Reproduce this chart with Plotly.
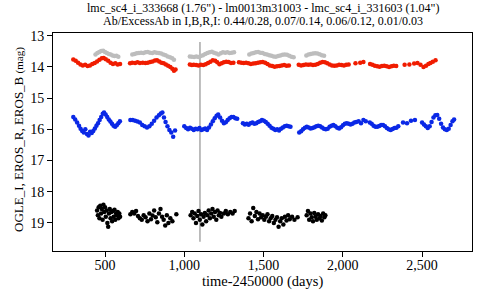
import plotly.graph_objects as go

# ---- data ----
red_t = [300, 315, 330, 345, 360, 375, 390, 405, 420, 435, 450, 465, 480, 492, 505, 520, 535, 550, 565, 580, 595,
         658, 672, 690, 705, 720, 738, 755, 770, 785, 800, 815, 828, 842, 856, 870, 884, 898, 912, 925, 935, 945,
         1035, 1048, 1060, 1075, 1090, 1105, 1120, 1135, 1150, 1165, 1180, 1195, 1208, 1222, 1236, 1250, 1265, 1280, 1295, 1310,
         1345, 1360, 1375, 1390, 1405, 1420, 1435, 1450, 1465, 1480, 1495, 1510, 1525, 1540, 1555, 1570, 1585, 1600, 1615, 1630, 1645, 1660,
         1722, 1737, 1752, 1767, 1782, 1797, 1812, 1827, 1842, 1857, 1872, 1887, 1902, 1917, 1932, 1947, 1962, 1977, 1992, 2007, 2022, 2037, 2080, 2110, 2130,
         2172, 2187, 2202, 2217, 2232, 2247, 2262, 2277, 2292, 2307, 2322, 2337, 2390, 2420, 2450,
         2471, 2490, 2509, 2525, 2540, 2553, 2568, 2585]
red_m = [13.76, 13.8, 13.86, 13.92, 13.95, 13.93, 13.97, 13.95, 13.9, 13.87, 13.82, 13.77, 13.72, 13.71, 13.75, 13.8, 13.86, 13.9, 13.88, 13.92, 13.9,
         13.88, 13.86, 13.87, 13.85, 13.87, 13.86, 13.87, 13.86, 13.84, 13.82, 13.79, 13.78, 13.82, 13.86, 13.88, 13.92, 13.96, 14.0, 14.06, 14.12, 14.08,
         13.92, 13.94, 13.93, 13.94, 13.95, 13.93, 13.94, 13.91, 13.87, 13.83, 13.78, 13.8, 13.85, 13.91, 13.88, 13.85, 13.83, 13.84, 13.87, 13.86,
         13.85, 13.86, 13.87, 13.86, 13.88, 13.9, 13.89, 13.88, 13.86, 13.85, 13.84, 13.86, 13.9, 13.95, 13.97, 13.99, 13.98, 13.97, 13.95, 13.94, 13.96, 13.95,
         13.93, 13.95, 13.94, 13.92, 13.93, 13.92, 13.94, 13.93, 13.9, 13.86, 13.84, 13.85, 13.88, 13.92, 13.95, 13.96, 13.95, 13.93, 13.94, 13.95, 13.93, 13.92, 13.88, 13.86, 13.84,
         13.9, 13.93, 13.96, 13.98, 13.99, 13.97, 13.96, 13.98, 14.0, 13.98, 13.96, 13.97, 13.93, 13.92, 13.89,
         13.87, 13.93, 14.0, 13.96, 13.9, 13.87, 13.83, 13.78]

gray_t = [440, 452, 464, 476, 488, 500, 512, 524, 536, 548, 560, 572, 584,
          672, 686, 700, 714, 728, 742, 756, 770, 784, 798, 812, 826, 840, 854, 868, 882, 896, 910, 924, 935,
          1035, 1048, 1062, 1076, 1090, 1104, 1118, 1132, 1146, 1160, 1174, 1188, 1202, 1216, 1230, 1244, 1258, 1272, 1286, 1300, 1314,
          1410, 1424, 1438, 1452, 1466, 1480, 1494, 1508, 1522, 1536, 1550, 1564, 1578, 1592, 1606, 1620, 1634, 1648, 1662, 1676, 1690,
          1770, 1784, 1798, 1812, 1826, 1840, 1854, 1868, 1882]
gray_m = [13.6, 13.55, 13.52, 13.49, 13.48, 13.52, 13.55, 13.58, 13.6, 13.63, 13.65, 13.64, 13.67,
          13.6, 13.58, 13.56, 13.55, 13.54, 13.55, 13.53, 13.52, 13.54, 13.55, 13.53, 13.54, 13.55, 13.57, 13.6, 13.62, 13.66, 13.69, 13.72, 13.77,
          13.66, 13.67, 13.68, 13.66, 13.68, 13.65, 13.62, 13.58, 13.55, 13.53, 13.51, 13.54, 13.57, 13.6, 13.56, 13.53, 13.54, 13.53, 13.55, 13.54, 13.53,
          13.6, 13.57, 13.55, 13.53, 13.52, 13.54, 13.55, 13.58, 13.6, 13.62, 13.64, 13.66, 13.67, 13.65, 13.63, 13.61, 13.6, 13.61, 13.64, 13.67, 13.69,
          13.63, 13.6, 13.58, 13.57, 13.56, 13.57, 13.59, 13.62, 13.64]

blue_t = [300, 312, 324, 336, 346, 356, 366, 376, 386, 396, 406, 416, 426, 436, 446, 456, 466, 476, 486, 494, 504, 514, 524, 534, 544, 554, 564, 574, 584, 594,
          660, 675, 690, 705, 720, 735, 750, 765, 780, 795, 810, 825, 840, 852, 862, 872, 882, 894, 906, 918, 930, 942,
          1000, 1012, 1024, 1036, 1048, 1060, 1072, 1084, 1096, 1108, 1120, 1132, 1144, 1156, 1168, 1180, 1192, 1204, 1214, 1226, 1238, 1250, 1262, 1274, 1286, 1298, 1310, 1322, 1334,
          1370, 1382, 1394, 1406, 1418, 1430, 1442, 1454, 1466, 1478, 1490, 1502, 1514, 1526, 1538, 1550, 1562, 1574, 1586, 1598, 1610, 1622, 1634, 1646, 1658, 1670,
          1725, 1737, 1749, 1761, 1773, 1785, 1797, 1809, 1821, 1833, 1845, 1857, 1869, 1881, 1893, 1905, 1917, 1929, 1941, 1953, 1965, 1977, 1989, 2001, 2013, 2025, 2037, 2049, 2061, 2073, 2085, 2100, 2115, 2130, 2145,
          2170, 2182, 2194, 2206, 2218, 2230, 2242, 2254, 2266, 2278, 2290, 2302, 2314, 2326, 2338, 2350, 2380, 2405, 2430, 2455,
          2500, 2512, 2524, 2536, 2548, 2560, 2572, 2584, 2596, 2608, 2620, 2632, 2644, 2656, 2668, 2680, 2692, 2702]
blue_m = [15.6, 15.68, 15.78, 15.88, 15.98, 16.05, 16.1, 16.0, 16.15, 16.2, 16.08, 16.12, 16.05, 15.97, 15.88, 15.8, 15.7, 15.6, 15.5, 15.46, 15.52, 15.6, 15.68, 15.75, 15.82, 15.88, 15.92, 15.87, 15.8, 15.74,
          15.7, 15.7, 15.72, 15.75, 15.78, 15.86, 15.9, 15.94, 15.9, 15.82, 15.72, 15.62, 15.55, 15.49, 15.46, 15.62, 15.76, 15.9, 16.02, 16.1, 16.24, 16.04,
          15.9, 15.96, 16.0, 15.95, 15.98, 16.02, 15.98, 16.0, 15.96, 16.02, 16.0, 15.97, 16.02, 15.94, 15.84, 15.74, 15.64, 15.56, 15.52, 15.62, 15.72, 15.8, 15.77, 15.7, 15.64, 15.6, 15.6, 15.64, 15.66,
          15.8, 15.84, 15.82, 15.85, 15.8, 15.78, 15.82, 15.8, 15.76, 15.74, 15.7, 15.72, 15.76, 15.82, 15.88, 15.95, 15.98, 16.02, 16.0, 16.04, 15.98, 15.94, 15.9, 15.88, 15.9, 15.92,
          16.1, 16.06, 16.0, 15.95, 15.92, 15.94, 15.97, 15.96, 15.93, 15.9, 15.88, 15.9, 15.94, 15.98, 16.0, 15.98, 15.92, 15.88, 15.86, 15.9, 15.95, 15.97, 15.93, 15.87, 15.82, 15.8, 15.82, 15.84, 15.82, 15.78, 15.76, 15.74, 15.8, 15.7, 15.74,
          15.78, 15.82, 15.88, 15.92, 15.92, 15.89, 15.86, 15.86, 15.9, 15.96, 16.0, 16.02, 15.99, 15.96, 15.95, 15.9, 15.78, 15.8, 15.72, 15.7,
          15.78, 15.84, 15.9, 15.96, 15.9, 15.76, 15.62, 15.55, 15.54, 15.66, 15.82, 15.94, 16.0, 16.02, 15.98, 15.86, 15.74, 15.68]

black_t = [450, 455, 460, 465, 470, 475, 480, 485, 490, 495, 500, 505, 510, 515, 520, 525, 530, 535, 540, 545, 550, 555, 560, 565, 570, 575, 580, 585, 590, 595,
           660, 672, 684, 696, 708, 720, 732, 744, 756, 768, 780, 790, 800, 810, 820, 830, 840, 850, 860, 870, 880, 890, 900, 912, 925, 950,
           1040, 1050, 1058, 1066, 1074, 1082, 1090, 1098, 1106, 1114, 1122, 1130, 1138, 1146, 1154, 1162, 1170, 1178, 1186, 1194, 1202, 1210, 1218, 1226, 1234, 1250, 1262, 1275, 1290, 1305, 1318,
           1405, 1415, 1425, 1435, 1445, 1455, 1465, 1475, 1485, 1495, 1505, 1515, 1525, 1535, 1545, 1555, 1565, 1575, 1585, 1595, 1605, 1615, 1625, 1635, 1645, 1655, 1665, 1680, 1695, 1715,
           1772, 1780, 1788, 1796, 1804, 1812, 1820, 1828, 1836, 1844, 1852, 1860, 1868, 1876, 1884, 1890]
black_m = [18.6, 18.75, 18.5, 18.85, 18.45, 18.7, 18.55, 18.9, 18.42, 18.65, 18.5, 18.8, 18.6, 19.0, 19.12, 18.7, 18.55, 18.85, 18.65, 18.95, 18.62, 18.8, 18.58, 18.9, 18.7, 18.75, 18.65, 18.85, 18.7, 18.8,
           18.72, 18.65, 18.7, 18.62, 18.78, 18.85, 18.9, 18.75, 18.82, 18.95, 18.7, 18.88, 18.76, 18.6, 18.82, 18.98, 18.7, 18.55, 18.8, 18.9, 19.08, 18.75, 19.0, 18.85, 18.95, 18.72,
           18.75, 18.65, 18.85, 18.7, 19.0, 18.78, 18.62, 18.9, 18.72, 19.05, 18.8, 18.68, 18.95, 18.75, 18.6, 18.85, 18.7, 18.55, 18.8, 18.65, 18.9, 18.6, 18.75, 18.68, 18.8, 18.7, 18.62, 18.72, 18.65, 18.7, 18.62,
           18.85, 18.7, 18.95, 18.52, 18.78, 18.65, 18.88, 18.7, 18.82, 18.75, 18.9, 18.8, 18.72, 18.95, 18.85, 18.78, 19.0, 18.9, 18.82, 19.12, 18.95, 18.85, 19.05, 18.8, 18.92, 18.75, 18.88, 18.8, 18.9, 18.82,
           18.75, 18.62, 18.9, 18.7, 18.82, 18.95, 18.68, 18.8, 18.9, 18.72, 18.85, 18.78, 18.92, 18.7, 18.82, 18.75]

event_t = [1099, 1099]
event_m = [13.2, 19.6]

title_lines = ["lmc_sc4_i_333668 (1.76\") - lm0013m31003 - lmc_sc4_i_331603 (1.04\")",
               "Ab/ExcessAb in I,B,R,I: 0.44/0.28, 0.07/0.14, 0.06/0.12, 0.01/0.03"]
x_title = "time-2450000 (days)"
y_title = "OGLE_I, EROS_R, EROS_B <span style='font-size:11px'>(mag)</span>"
x_ticks = [500, 1000, 1500, 2000, 2500]
x_ticktext = ["500", "1,000", "1,500", "2,000", "2,500"]
y_ticks = [13, 14, 15, 16, 17, 18, 19]

FONT = "Liberation Serif, Times New Roman, serif"
MS = 4.5

fig = go.Figure()
fig.add_trace(go.Scatter(x=event_t, y=event_m, mode="lines",
                         line=dict(color="#a8a8a8", width=1.5), hoverinfo="skip"))
fig.add_trace(go.Scatter(x=gray_t, y=gray_m, mode="markers",
                         marker=dict(color="#bdbdbd", size=MS)))
fig.add_trace(go.Scatter(x=red_t, y=red_m, mode="markers",
                         marker=dict(color="#f01c00", size=MS)))
fig.add_trace(go.Scatter(x=blue_t, y=blue_m, mode="markers",
                         marker=dict(color="#0a28e6", size=MS)))
fig.add_trace(go.Scatter(x=black_t, y=black_m, mode="markers",
                         marker=dict(color="#000000", size=MS)))

# plot area: x 53..472 px (419 wide), y 33..251 px (218 tall)
PW, PH = 419.0, 218.0
fig.update_layout(
    width=480, height=300,
    margin=dict(l=53, r=8, t=33, b=49, autoexpand=False),
    paper_bgcolor="white", plot_bgcolor="white",
    showlegend=False,
    font=dict(family=FONT, color="black"),
    annotations=[
        dict(text=title_lines[0], xref="paper", yref="paper", x=0.5, y=1 + 25 / PH,
             xanchor="center", yanchor="middle", showarrow=False,
             font=dict(family=FONT, size=12, color="black")),
        dict(text=title_lines[1], xref="paper", yref="paper", x=0.5, y=1 + 12 / PH,
             xanchor="center", yanchor="middle", showarrow=False,
             font=dict(family=FONT, size=12, color="black")),
        dict(text=x_title, xref="paper", yref="paper", x=0.5, y=-30 / PH,
             xanchor="center", yanchor="middle", showarrow=False,
             font=dict(family=FONT, size=14.5, color="black")),
        dict(text=y_title, xref="paper", yref="paper", x=-35 / PW, y=(251 - 140) / PH,
             xanchor="center", yanchor="middle", showarrow=False, textangle=-90,
             font=dict(family=FONT, size=13, color="black")),
    ],
)
fig.update_xaxes(range=[172, 2815], tickvals=x_ticks, ticktext=x_ticktext,
                 ticks="outside", ticklen=5, tickcolor="black", automargin=False,
                 ticklabelstandoff=-4,
                 showline=True, linecolor="black", linewidth=1, mirror=True,
                 showgrid=False, zeroline=False,
                 tickfont=dict(family=FONT, size=14))
fig.update_yaxes(range=[19.9, 12.91], tickvals=y_ticks,
                 ticks="outside", ticklen=5, tickcolor="black", automargin=False,
                 showline=True, linecolor="black", linewidth=1, mirror=True,
                 showgrid=False, zeroline=False,
                 tickfont=dict(family=FONT, size=14))

fig.write_html("out.html", config={"displayModeBar": False},
               post_script="document.body.style.margin='0';document.body.style.overflow='hidden';")
